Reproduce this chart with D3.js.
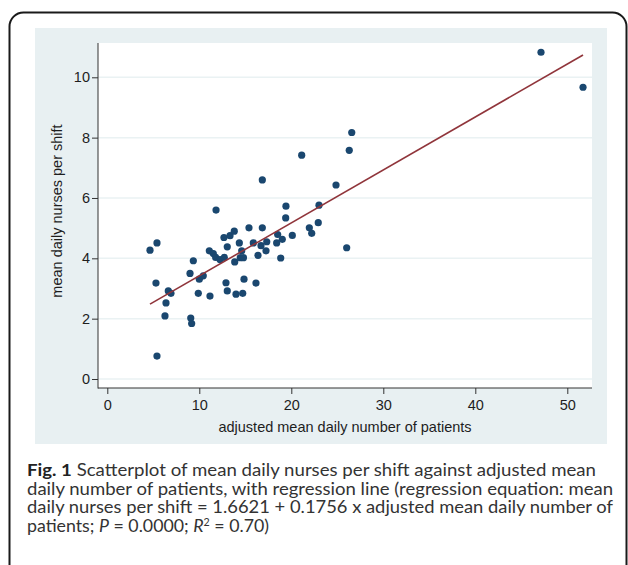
<!DOCTYPE html>
<html>
<head>
<meta charset="utf-8">
<script src="https://cdn.jsdelivr.net/npm/d3@7"></script>
<style>
  body { margin: 0; background: #fff; }
  svg text { font-family: "Liberation Sans", Arial, sans-serif; fill: #1e1e1e; }
  .caption text { font-family: Lato, "Open Sans", sans-serif; fill: #333; }
</style>
</head>
<body>
<div id="chart"></div>
<script>
// values
var patients = [4.64, 5.40, 5.29, 5.40, 6.63, 6.92, 6.38, 6.27, 9.07, 9.17,
  8.99, 9.35, 9.89, 10.0, 10.43, 11.16, 11.09, 11.52, 11.78, 12.25,
  12.72, 12.90, 13.04, 13.99, 13.85, 13.04, 12.68, 13.34, 13.80, 11.82,
  14.35, 15.40, 16.85, 15.87, 14.61, 14.45, 14.80, 14.86, 14.72, 16.16,
  16.38, 16.71, 17.33, 17.25, 18.41, 18.52, 19.02, 20.11, 18.85, 19.39,
  19.42, 21.96, 22.22, 22.93, 23.01, 16.85, 21.13, 24.86, 26.57, 26.30,
  26.02, 47.14, 51.71];
var nurses = [4.27, 4.51, 3.18, 0.76, 2.92, 2.84, 2.52, 2.09, 2.02, 1.84,
  3.50, 3.92, 2.84, 3.31, 3.42, 2.75, 4.25, 4.16, 4.03, 3.96,
  4.03, 3.19, 2.92, 2.81, 3.88, 4.38, 4.69, 4.75, 4.90, 5.60,
  4.51, 5.01, 5.01, 4.51, 4.25, 4.02, 4.02, 3.31, 2.84, 3.18,
  4.10, 4.42, 4.55, 4.25, 4.51, 4.79, 4.63, 4.76, 4.01, 5.34,
  5.73, 5.01, 4.83, 5.18, 5.76, 6.60, 7.42, 6.43, 8.17, 7.58,
  4.35, 10.83, 9.67];
var fitX = [4.64, 51.71];
var fitY = [2.48, 10.74];
var xTicks = [0, 10, 20, 30, 40, 50];
var yTicks = [0, 2, 4, 6, 8, 10];
var xTitle = "adjusted mean daily number of patients";
var yTitle = "mean daily nurses per shift";
var captionLines = [
  "Scatterplot of mean daily nurses per shift against adjusted mean",
  "daily number of patients, with regression line (regression equation: mean",
  "daily nurses per shift = 1.6621 + 0.1756 x adjusted mean daily number of"
];

var width = 628, height = 565;
var plotL = 98, plotR = 592, plotT = 43, plotB = 388;

var svg = d3.select("#chart").append("svg")
  .attr("width", width)
  .attr("height", height);

// outer frame
svg.append("rect")
  .attr("x", 9.5).attr("y", 12.5)
  .attr("width", 617).attr("height", 600)
  .attr("rx", 14).attr("ry", 14)
  .attr("fill", "none")
  .attr("stroke", "#1a1a1a")
  .attr("stroke-width", 2);

// graph region background
svg.append("rect")
  .attr("x", 35).attr("y", 28)
  .attr("width", 572).attr("height", 416)
  .attr("fill", "#e8f0f2");

svg.append("rect")
  .attr("x", plotL).attr("y", plotT)
  .attr("width", plotR - plotL).attr("height", plotB - plotT)
  .attr("fill", "#fff");

var x = d3.scaleLinear().domain([0, 50]).range([107.3, 567.3]);
var y = d3.scaleLinear().domain([0, 10]).range([379, 77.3]);

// grid
svg.append("g").selectAll("line")
  .data(yTicks)
  .enter()
  .append("line")
  .attr("x1", plotL).attr("x2", plotR)
  .attr("y1", function(d){ return y(d); })
  .attr("y2", function(d){ return y(d); })
  .attr("stroke", "#eaf2f3")
  .attr("stroke-width", 1.5);

// axes
var yAxis = svg.append("g")
  .attr("transform", "translate(" + plotL + ",0)")
  .call(d3.axisLeft(y).tickValues(yTicks).tickSize(6).tickPadding(2).tickFormat(d3.format("d")));
var xAxis = svg.append("g")
  .attr("transform", "translate(0," + plotB + ")")
  .call(d3.axisBottom(x).tickValues(xTicks).tickSize(6).tickPadding(6).tickFormat(d3.format("d")));

[xAxis, yAxis].forEach(function(a){
  a.attr("font-size", null).attr("font-family", null);
  a.select(".domain").remove();
  a.selectAll(".tick line").attr("stroke", "#333");
  a.selectAll(".tick text")
    .style("font-size", "14.5px")
    .style("fill", "#1e1e1e");
});

svg.append("line")
  .attr("x1", plotL).attr("x2", plotL)
  .attr("y1", plotT).attr("y2", plotB + 0.5)
  .attr("stroke", "#333").attr("stroke-width", 1);
svg.append("line")
  .attr("x1", plotL).attr("x2", plotR)
  .attr("y1", plotB).attr("y2", plotB)
  .attr("stroke", "#333").attr("stroke-width", 1);

// points
var pts = patients.map(function(d, i){ return [d, nurses[i]]; });
svg.append("g").selectAll("circle")
  .data(pts)
  .enter()
  .append("circle")
  .attr("cx", function(d){ return x(d[0]); })
  .attr("cy", function(d){ return y(d[1]); })
  .attr("r", 3.6)
  .attr("fill", "#1a476f");

// regression line
svg.append("line")
  .attr("x1", x(fitX[0])).attr("y1", y(fitY[0]))
  .attr("x2", x(fitX[1])).attr("y2", y(fitY[1]))
  .attr("stroke", "#90353b")
  .attr("stroke-width", 1.6);

// titles
svg.append("text")
  .attr("x", (plotL + plotR) / 2)
  .attr("y", 432)
  .attr("text-anchor", "middle")
  .style("font-size", "14.5px")
  .text(xTitle);

svg.append("text")
  .attr("transform", "translate(62,211) rotate(-90)")
  .attr("text-anchor", "middle")
  .style("font-size", "14.5px")
  .text(yTitle);

// caption
var cap = svg.append("g").attr("class", "caption");
var lineY = [476, 494.7, 513.4, 532.1];
var capWidths = [569, 586, 586];

var first = cap.append("text")
  .attr("x", 27).attr("y", lineY[0])
  .style("font-size", "17.5px")
  .attr("textLength", capWidths[0])
  .attr("lengthAdjust", "spacingAndGlyphs");
first.append("tspan").attr("font-weight", "bold").style("fill", "#222").text("Fig. 1");
first.append("tspan").text(" " + captionLines[0]);

cap.selectAll(".capline")
  .data(captionLines.slice(1))
  .enter()
  .append("text")
  .attr("class", "capline")
  .attr("x", 27)
  .attr("y", function(d, i){ return lineY[i + 1]; })
  .style("font-size", "17.5px")
  .attr("textLength", function(d, i){ return capWidths[i + 1]; })
  .attr("lengthAdjust", "spacingAndGlyphs")
  .text(function(d){ return d; });

var last = cap.append("text")
  .attr("x", 27).attr("y", lineY[3])
  .style("font-size", "17.5px")
  .attr("textLength", 242)
  .attr("lengthAdjust", "spacingAndGlyphs");
last.append("tspan").text("patients; ");
last.append("tspan").attr("font-style", "italic").text("P");
last.append("tspan").text(" = 0.0000; ");
last.append("tspan").attr("font-style", "italic").text("R");
last.append("tspan").style("font-size", "10.5px").attr("dy", -6).text("2");
last.append("tspan").attr("dy", 6).text(" = 0.70)");
</script>
</body>
</html>
